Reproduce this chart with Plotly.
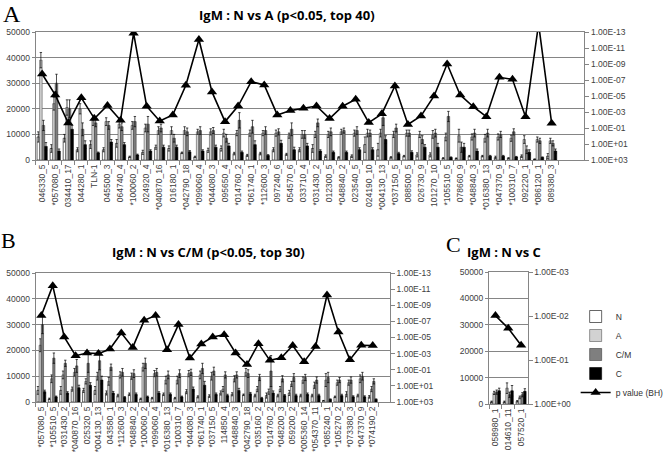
import plotly.graph_objects as go

W, H = 669, 460

# ---------------- Panel A data ----------------
A_labels = ["046330_5", "*057080_5", "034410_17", "044280_1", "TLN-1", "045500_3", "064740_4",
            "*100060_2", "024920_4", "*040870_16", "016180_1", "*042790_18", "*099060_4",
            "*044080_3", "095650_4", "*014760_2", "*061740_1", "*112600_3", "097240_6",
            "054570_6", "033710_4", "*031430_2", "012300_5", "*048840_2", "023540_5",
            "024190_10", "*004130_13", "*037150_5", "088500_5", "026730_9", "101270_10",
            "*105510_5", "078660_9", "*048840_3", "*016380_13", "*047370_9", "*100310_7",
            "092220_1", "*086120_1", "089380_3"]
A_N = [9000, 4500, 8500, 4000, 6000, 4000, 6500, 1200, 3000, 5000, 4500, 2800, 1200, 3800, 4500,
       2500, 1800, 2500, 4000, 2200, 4000, 4500, 1500, 1000, 1500, 6000, 4000, 1000, 1500, 2000,
       2000, 700, 600, 1500, 1500, 1000, 700, 1500, 300, 1500]
A_N_err = [2000, 1500, 1500, 800, 1500, 800, 1500, 300, 800, 800, 1000, 300, 300, 800, 1000, 500,
           400, 500, 800, 400, 800, 1500, 500, 300, 500, 3000, 2500, 300, 300, 800, 800, 200, 200,
           300, 300, 500, 200, 500, 100, 1000]
A_A = [39000, 22000, 20500, 20000, 15500, 15000, 14000, 13500, 12500, 11500, 11500, 11500, 11000,
       11000, 10500, 10500, 10500, 10500, 10500, 9500, 10000, 10000, 10000, 11000, 10500, 10500,
       10500, 10000, 10500, 10000, 10000, 9000, 9500, 9000, 8500, 9000, 8500, 8000, 8000, 7500]
A_A_err = [3000, 2500, 3000, 2000, 2000, 1500, 1500, 1500, 1500, 1500, 1500, 1500, 1000, 1200,
           1500, 1000, 1200, 1000, 1200, 1000, 1500, 1200, 1200, 1000, 1200, 1500, 1500, 1200,
           1200, 1200, 1500, 1500, 2500, 1200, 1500, 1200, 1200, 1500, 1000, 1000]
A_CM = [13500, 30000, 20000, 12000, 14500, 13500, 13000, 15000, 14000, 12500, 8500, 11000, 11500,
        11500, 8500, 15500, 13000, 11500, 11000, 12000, 10000, 14500, 11000, 11500, 11500, 10500,
        16500, 12500, 10500, 8000, 10500, 17000, 5000, 10500, 10500, 10000, 11000, 4000, 7500, 6500]
A_CM_err = [2000, 3500, 3500, 2500, 1500, 1500, 1500, 2000, 3000, 1500, 1500, 1500, 1500, 1200,
            1500, 3000, 2500, 1500, 1200, 2500, 1500, 1500, 1500, 1000, 1500, 1200, 3000, 1500,
            1200, 1500, 1500, 2000, 2000, 1500, 1500, 1200, 1200, 1500, 1000, 1000]
A_C = [5300, 3500, 12000, 6000, 2800, 7000, 6000, 2000, 3500, 5000, 5000, 3200, 3500, 5000, 5500,
       3000, 6000, 1800, 6500, 4000, 5500, 3500, 3000, 3000, 4000, 4000, 8000, 2500, 3000, 5000,
       5000, 1000, 5000, 3500, 1500, 1500, 1200, 3000, 1000, 3500]
A_C_err = [1500, 800, 1500, 1500, 300, 1000, 800, 300, 500, 800, 800, 500, 500, 800, 1000, 500,
           1500, 300, 1200, 1000, 1000, 500, 500, 500, 800, 800, 1500, 500, 600, 1000, 1500, 200,
           1500, 800, 300, 300, 200, 1000, 200, 800]
A_p = [1.8e-8, 7.4e-6, 2.4e-2, 1.7e-5, 6.6e-3, 1.5e-4, 1.1e-2, 1.4e-13, 1.9e-4, 1.3e-2, 2.3e-3,
       4.5e-7, 8.5e-13, 3.1e-6, 1.6e-2, 1.8e-4, 1.6e-7, 4.2e-7, 2.3e-3, 6.7e-4, 3.4e-4, 1.8e-4,
       6.6e-3, 1.9e-4, 2.6e-5, 2.1e-2, 1.7e-3, 5.6e-7, 3.6e-2, 3.1e-3, 1.0e-5, 1.0e-9, 7.4e-6,
       2.2e-4, 3.9e-3, 4.6e-8, 8.3e-8, 3.9e-3, 1.0e-14, 2.6e-2]

# ---------------- Panel B data ----------------
B_labels = ["*057080_5", "*105510_5", "*031430_2", "*040870_16", "025320_5", "*004130_13",
            "043580_1", "*112600_3", "*048840_2", "*100060_2", "*099060_4", "*016380_13",
            "*100310_7", "*044080_3", "*061740_1", "*037150_5", "114850_4", "*048840_3",
            "*042790_18", "*035160_2", "*014760_2", "*048200_3", "059200_2", "*005360_14",
            "*054370_11", "*085240_1", "*105270_2", "*073380_3", "*047370_9", "*074190_2"]
B_N = [4500, 1200, 4500, 5000, 4500, 4500, 3500, 2500, 3000, 1200, 1500, 3000, 1500, 4000, 2000,
       2300, 3500, 3000, 2800, 2500, 2500, 2500, 3500, 2500, 2500, 500, 2000, 3000, 2500, 2000]
B_N_err = [1500, 300, 1500, 800, 800, 1500, 800, 500, 500, 300, 300, 500, 300, 800, 400, 500, 800,
           600, 300, 500, 1000, 500, 1000, 500, 500, 100, 300, 1000, 500, 500]
B_A = [22000, 9000, 10500, 11500, 8000, 10000, 8000, 10500, 10000, 13500, 11000, 8500, 8500, 11000,
       10500, 10000, 5000, 9000, 11500, 5000, 4000, 5000, 7000, 8500, 6500, 8500, 7500, 7500, 9000,
       5000]
B_A_err = [2500, 1500, 1500, 1500, 1000, 1500, 1500, 1200, 1200, 1500, 1200, 1500, 1500, 1200,
           1500, 1500, 1000, 1200, 1500, 1000, 1000, 1000, 1000, 1200, 1200, 2500, 1000, 1000,
           1500, 1000]
B_CM = [30000, 17000, 15000, 14000, 15000, 16000, 13500, 11500, 11000, 15000, 11500, 10500, 11000,
        11500, 13000, 12000, 10500, 10500, 11000, 9500, 12000, 9000, 9500, 9500, 8500, 9500, 8500,
        8500, 10000, 8000]
B_CM_err = [3500, 2000, 1200, 2500, 3500, 3500, 1200, 1500, 1500, 2000, 1500, 1500, 1500, 1200,
            2000, 1500, 1200, 1200, 1500, 1200, 6000, 1200, 1500, 1200, 1200, 2000, 1000, 1200,
            1500, 1000]
B_C = [4000, 2000, 3500, 5500, 6500, 8500, 3500, 1800, 3000, 2000, 3500, 3000, 2000, 5000, 6500,
       3000, 2500, 4500, 3200, 1500, 3500, 2500, 2500, 3000, 2500, 1000, 2500, 2000, 2000, 1000]
B_C_err = [600, 300, 500, 1000, 1000, 1500, 600, 300, 500, 300, 500, 500, 300, 800, 1500, 500, 500,
           800, 500, 300, 800, 400, 500, 500, 500, 200, 500, 400, 400, 200]
B_p = [1.9e-8, 3.7e-12, 8.7e-6, 1.8e-3, 8.3e-4, 1.0e-3, 2.7e-4, 2.8e-6, 1.7e-4, 7.4e-8, 1.9e-8,
       3.2e-4, 2.5e-7, 3.5e-3, 6.3e-5, 8.7e-6, 4.5e-6, 8.3e-4, 2.3e-2, 5.8e-5, 6.8e-3, 3.2e-3,
       1.0e-4, 1.0e-2, 1.3e-4, 5.4e-11, 2.1e-6, 5.6e-3, 9.3e-5, 1.0e-4]

# ---------------- Panel C data ----------------
C_labels = ["058980_1", "014610_11", "057520_1"]
C_N = [800, 800, 1000]
C_N_err = [300, 300, 300]
C_A = [4200, 6000, 2500]
C_A_err = [600, 2000, 500]
C_CM = [4500, 3500, 3500]
C_CM_err = [800, 1000, 800]
C_C = [5000, 5000, 4800]
C_C_err = [1000, 2000, 1000]
C_p = [0.0098, 0.019, 0.046]

# tick labels
left_ticks = [0, 10000, 20000, 30000, 40000, 50000]
AB_p_ticks = [1e3, 1e1, 1e-1, 1e-3, 1e-5, 1e-7, 1e-9, 1e-11, 1e-13]
AB_p_text = ["1.00E+03", "1.00E+01", "1.00E-01", "1.00E-03", "1.00E-05", "1.00E-07",
             "1.00E-09", "1.00E-11", "1.00E-13"]
C_p_ticks = [1, 1e-1, 1e-2, 1e-3]
C_p_text = ["1.00E+00", "1.00E-01", "1.00E-02", "1.00E-03"]

series_names = ["N", "A", "C/M", "C"]
fill = {"N": "#ffffff", "A": "#d2d2d2", "C/M": "#7f7f7f", "C": "#000000"}
edge = {"N": "#000000", "A": "#555555", "C/M": "#3a3a3a", "C": "#000000"}

fig = go.Figure()


def add_panel(labels, vals, errs, pvals, xa, ya, ya2, showlegend):
    for nm in series_names:
        fig.add_trace(go.Bar(
            x=labels, y=vals[nm], name=nm, xaxis=xa, yaxis=ya,
            marker=dict(color=fill[nm], line=dict(color=edge[nm], width=0.6)),
            error_y=dict(type="data", array=errs[nm], symmetric=True, color="#000000",
                         thickness=0.7, width=1.2),
            showlegend=showlegend, legendgroup=nm))
    fig.add_trace(go.Scatter(
        x=labels, y=pvals, name="p value (BH)", xaxis=xa, yaxis=ya2, mode="lines+markers",
        line=dict(color="#000000", width=1.6),
        marker=dict(symbol="triangle-up", size=9, color="#000000"),
        showlegend=showlegend, legendgroup="p"))


add_panel(A_labels, {"N": A_N, "A": A_A, "C/M": A_CM, "C": A_C},
          {"N": A_N_err, "A": A_A_err, "C/M": A_CM_err, "C": A_C_err}, A_p, "x", "y", "y2", True)
add_panel(B_labels, {"N": B_N, "A": B_A, "C/M": B_CM, "C": B_C},
          {"N": B_N_err, "A": B_A_err, "C/M": B_CM_err, "C": B_C_err}, B_p, "x2", "y3", "y4", False)
add_panel(C_labels, {"N": C_N, "A": C_A, "C/M": C_CM, "C": C_C},
          {"N": C_N_err, "A": C_A_err, "C/M": C_CM_err, "C": C_C_err}, C_p, "x3", "y5", "y6", False)

GRID = "#858585"
TXT = "#404040"
FONT = "Liberation Sans"


def dx(a, b):
    return [a / W, b / W]


def dy(top, bottom):
    return [1 - bottom / H, 1 - top / H]


def xaxis(domain, anchor, nslots):
    return dict(domain=domain, anchor=anchor, type="category", range=[-0.5, nslots - 0.5],
                tickangle=-90, tickfont=dict(family=FONT, size=8.5, color=TXT),
                showline=True, linecolor=GRID, linewidth=1, mirror=True,
                ticks="outside", ticklen=4, tickcolor=GRID, tickson="boundaries",
                showgrid=False, zeroline=False, automargin=False)


def yleft(domain, anchor):
    return dict(domain=domain, anchor=anchor, range=[0, 50000], tickvals=left_ticks,
                tickformat="d", showgrid=True, gridcolor=GRID, gridwidth=1,
                showline=True, linecolor=GRID, ticks="outside", ticklen=3, tickcolor=GRID,
                tickfont=dict(family=FONT, size=8.5, color=TXT), zeroline=False,
                automargin=False)


def yright(overlay, anchor, rng, tv, tt):
    return dict(overlaying=overlay, anchor=anchor, side="right", type="log", range=rng,
                tickvals=tv, ticktext=tt, showgrid=False, zeroline=False,
                showline=True, linecolor=GRID, ticks="outside", ticklen=4, tickcolor=GRID,
                tickfont=dict(family=FONT, size=8.5, color=TXT), automargin=False)


fig.update_layout(
    width=W, height=H, margin=dict(l=0, r=0, t=0, b=0),
    paper_bgcolor="#ffffff", plot_bgcolor="#ffffff",
    barmode="group", bargap=0.22, bargroupgap=0.0,
    xaxis=xaxis(dx(37, 607), "y", 42),
    yaxis=yleft(dy(32, 160), "x"),
    yaxis2=yright("y", "x", [3, -13], AB_p_ticks, AB_p_text),
    xaxis2=xaxis(dx(37, 405), "y3", 31),
    yaxis3=yleft(dy(273, 402), "x2"),
    yaxis4=yright("y3", "x2", [3, -13], AB_p_ticks, AB_p_text),
    xaxis3=xaxis(dx(508, 548), "y5", 3),
    yaxis5=yleft(dy(272, 404), "x3"),
    yaxis6=yright("y5", "x3", [0, -3], C_p_ticks, C_p_text),
    showlegend=True,
    legend=dict(x=598 / W, y=1 - 302 / H, xanchor="left", yanchor="top",
                font=dict(family=FONT, size=8.5, color="#303030"), bgcolor="rgba(0,0,0,0)",
                tracegroupgap=0, itemwidth=30),
)

title_font = dict(family="Open Sans", size=13, color="#000000")
annotations = [
    dict(text="<b>IgM : N vs A (p<0.05, top 40)</b>", x=298 / W, y=1 - 15 / H, font=title_font),
    dict(text="<b>IgM : N vs C/M (p<0.05, top 30)</b>", x=217 / W, y=1 - 252 / H, font=title_font),
    dict(text="<b>IgM : N vs C</b>", x=524 / W, y=1 - 252 / H, font=title_font),
    dict(text="A", x=12 / W, y=1 - 14 / H, font=dict(family="Liberation Serif", size=24, color="#000")),
    dict(text="B", x=9 / W, y=1 - 240 / H, font=dict(family="Liberation Serif", size=22, color="#000")),
    dict(text="C", x=471 / W, y=1 - 244 / H, font=dict(family="Liberation Serif", size=22, color="#000")),
]
for a in annotations:
    a.update(xref="paper", yref="paper", showarrow=False, xanchor="center", yanchor="middle")
fig.update_layout(annotations=annotations)

fig.write_html("out.html", config={"displayModeBar": False},
               post_script="document.body.style.margin='0px';document.body.style.overflow='hidden';")
